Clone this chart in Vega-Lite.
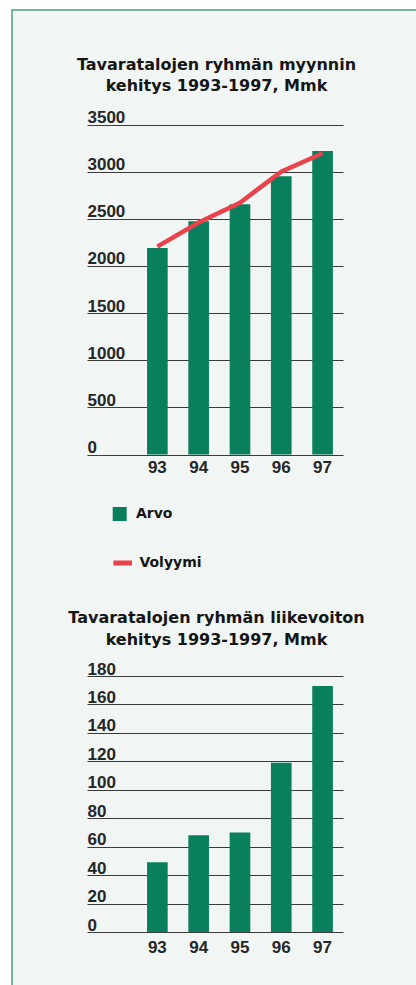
{
  "$schema": "https://vega.github.io/schema/vega-lite/v6.json",
  "width": 406,
  "height": 977,
  "autosize": {"type": "none"},
  "padding": {"left": 12, "top": 10, "right": -2, "bottom": -2},
  "background": "#ffffff",
  "datasets": {
    "myynti": [
      {"vuosi": "93", "arvo": 2190, "volyymi": 2205, "arvo_nimi": "Arvo", "volyymi_nimi": "Volyymi"},
      {"vuosi": "94", "arvo": 2475, "volyymi": 2460, "arvo_nimi": "Arvo", "volyymi_nimi": "Volyymi"},
      {"vuosi": "95", "arvo": 2655, "volyymi": 2670, "arvo_nimi": "Arvo", "volyymi_nimi": "Volyymi"},
      {"vuosi": "96", "arvo": 2950, "volyymi": 3000, "arvo_nimi": "Arvo", "volyymi_nimi": "Volyymi"},
      {"vuosi": "97", "arvo": 3220, "volyymi": 3195, "arvo_nimi": "Arvo", "volyymi_nimi": "Volyymi"}
    ],
    "liikevoitto": [
      {"vuosi": "93", "liikevoitto": 49},
      {"vuosi": "94", "liikevoitto": 68},
      {"vuosi": "95", "liikevoitto": 70},
      {"vuosi": "96", "liikevoitto": 119},
      {"vuosi": "97", "liikevoitto": 173}
    ]
  },
  "config": {
    "view": {"fill": "#f1f5f4", "stroke": "#4e9e80", "strokeWidth": 1.5},
    "axis": {
      "labelFont": "Liberation Sans",
      "labelFontSize": 17,
      "labelFontWeight": "bold",
      "labelColor": "#262626",
      "domain": false,
      "ticks": false,
      "tickSize": 0
    },
    "legend": {
      "labelFont": "DejaVu Sans",
      "labelFontSize": 14,
      "labelFontWeight": "bold",
      "labelColor": "#151515",
      "padding": 0
    }
  },
  "layer": [
    {
      "data": {"name": "myynti"},
      "mark": {"type": "bar"},
      "encoding": {
        "x": {
          "field": "vuosi",
          "type": "ordinal",
          "scale": {"type": "band", "range": [75, 331], "paddingInner": 0.5, "paddingOuter": 0.849, "align": 0.856},
          "axis": {"orient": "bottom", "offset": -532.5, "labelAngle": 0, "labelPadding": 5, "labelBaseline": "top", "title": null, "grid": false}
        },
        "y": {
          "field": "arvo",
          "type": "quantitative",
          "scale": {"domain": [0, 3500], "range": [444.5, 114.5], "nice": false, "zero": true},
          "axis": {
            "orient": "left",
            "values": [0, 500, 1000, 1500, 2000, 2500, 3000, 3500],
            "format": "d",
            "grid": true,
            "gridColor": "#3a3a3a",
            "gridWidth": 1,
            "labelAlign": "left",
            "labelBaseline": "alphabetic",
            "labelPadding": -75,
            "labelOffset": -2,
            "labelOverlap": false,
            "labelFlush": false,
            "title": ["Tavaratalojen ryhmän myynnin", "kehitys 1993-1997, Mmk"],
            "titleAngle": 0,
            "titleAlign": "center",
            "titleBaseline": "alphabetic",
            "titleX": 204,
            "titleY": 59,
            "titleFont": "DejaVu Sans",
            "titleFontSize": 16,
            "titleFontWeight": "bold",
            "titleColor": "#151515",
            "titleLineHeight": 21
          }
        },
        "fill": {
          "field": "arvo_nimi",
          "type": "nominal",
          "scale": {"domain": ["Arvo"], "range": ["#0a7f5e"]},
          "legend": {
            "orient": "none",
            "legendX": 100.7,
            "legendY": 497,
            "title": null,
            "symbolType": "square",
            "symbolSize": 196,
            "symbolStrokeWidth": 0,
            "symbolOpacity": 1,
            "labelOffset": 9.3
          }
        }
      }
    },
    {
      "data": {"name": "myynti"},
      "mark": {"type": "line", "strokeWidth": 4.5, "strokeCap": "butt"},
      "encoding": {
        "x": {
          "field": "vuosi",
          "type": "ordinal",
          "bandPosition": 0.5,
          "scale": {"type": "band", "range": [75, 331], "paddingInner": 0.5, "paddingOuter": 0.849, "align": 0.856},
          "axis": null
        },
        "y": {
          "field": "volyymi",
          "type": "quantitative",
          "scale": {"domain": [0, 3500], "range": [444.5, 114.5], "nice": false, "zero": true},
          "axis": null
        },
        "stroke": {
          "field": "volyymi_nimi",
          "type": "nominal",
          "scale": {"domain": ["Volyymi"], "range": ["#e9424b"]},
          "legend": {
            "orient": "none",
            "legendX": 98.7,
            "legendY": 541,
            "title": null,
            "symbolType": "stroke",
            "symbolSize": 346,
            "symbolStrokeWidth": 5,
            "labelOffset": 4.7
          }
        }
      }
    },
    {
      "data": {"name": "liikevoitto"},
      "mark": {"type": "bar", "color": "#0a7f5e"},
      "encoding": {
        "x": {
          "field": "vuosi",
          "type": "ordinal",
          "scale": {"type": "band", "range": [75, 331], "paddingInner": 0.5, "paddingOuter": 0.849, "align": 0.856},
          "axis": {"orient": "bottom", "offset": -55, "labelAngle": 0, "labelPadding": 7, "labelBaseline": "top", "title": null, "grid": false}
        },
        "y": {
          "field": "liikevoitto",
          "type": "quantitative",
          "scale": {"domain": [0, 180], "range": [922, 666], "nice": false, "zero": true},
          "axis": {
            "orient": "left",
            "values": [0, 20, 40, 60, 80, 100, 120, 140, 160, 180],
            "format": "d",
            "grid": true,
            "gridColor": "#3a3a3a",
            "gridWidth": 1,
            "labelAlign": "left",
            "labelBaseline": "alphabetic",
            "labelPadding": -75,
            "labelOffset": -2,
            "labelOverlap": false,
            "labelFlush": false,
            "title": ["Tavaratalojen ryhmän liikevoiton", "kehitys 1993-1997, Mmk"],
            "titleAngle": 0,
            "titleAlign": "center",
            "titleBaseline": "alphabetic",
            "titleX": 204,
            "titleY": 612.3,
            "titleFont": "DejaVu Sans",
            "titleFontSize": 16,
            "titleFontWeight": "bold",
            "titleColor": "#151515",
            "titleLineHeight": 22
          }
        }
      }
    }
  ],
  "resolve": {"scale": {"x": "independent", "y": "independent", "fill": "independent", "stroke": "independent"}}
}
